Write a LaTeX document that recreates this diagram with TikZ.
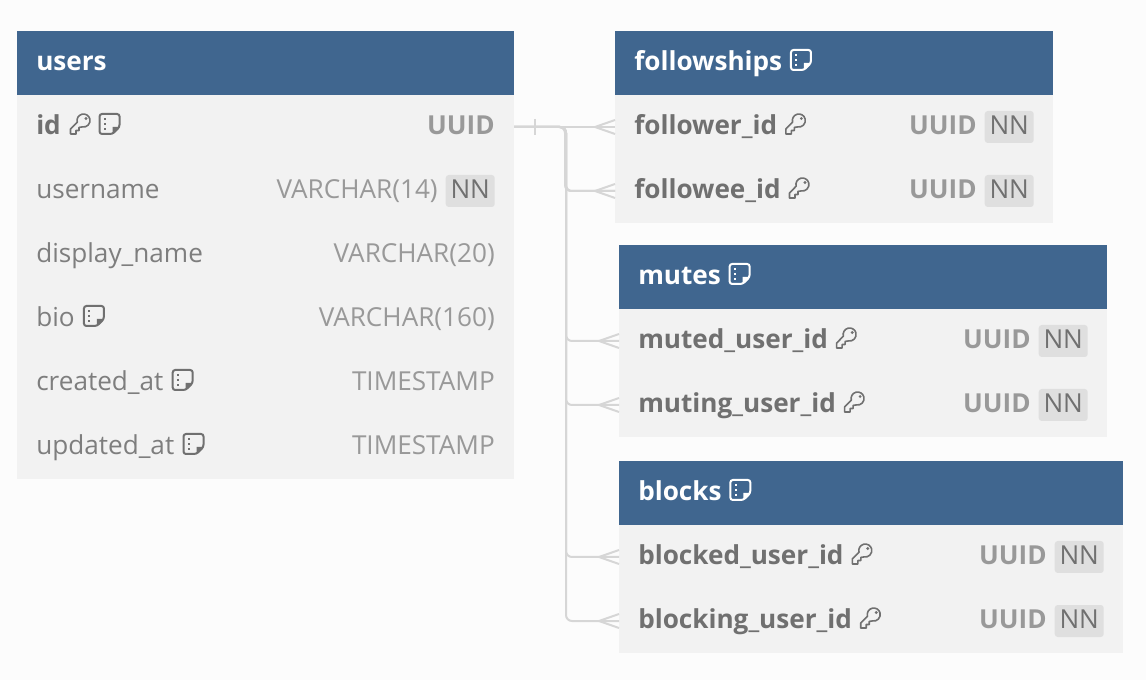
\documentclass[tikz,border=0pt]{standalone}
\usepackage{fontspec}
\setmainfont{Open Sans}
\usetikzlibrary{positioning}
\definecolor{headblue}{HTML}{40668F}
\definecolor{rowgray}{HTML}{F2F2F2}
\definecolor{pagegray}{HTML}{FCFCFC}
\definecolor{namegray}{HTML}{707070}
\definecolor{typegray}{HTML}{999999}
\definecolor{badgegray}{HTML}{DFDFDF}
\definecolor{linegray}{HTML}{D6D6D6}
\newdimen\px
\px=0.75pt
\tikzset{
  tablehead/.style={fill=headblue,anchor=north west,minimum height=64\px,inner sep=0pt,outer sep=0pt},
  tablerow/.style={fill=rowgray,minimum height=64\px,inner sep=0pt,outer sep=0pt},
  rowtext/.style={inner sep=0pt,text height=14pt,text depth=2.8pt,font=\fontsize{19.6pt}{23pt}\selectfont},
  headname/.style={rowtext,text=white,font=\fontsize{19.6pt}{23pt}\selectfont\bfseries},
  colname/.style={rowtext,text=namegray!90!white},
  keyname/.style={rowtext,text=namegray,font=\fontsize{19.6pt}{23pt}\selectfont\bfseries},
  coltype/.style={rowtext,text=typegray},
  keytype/.style={rowtext,text=typegray,font=\fontsize{19.6pt}{23pt}\selectfont\bfseries},
  nnbadge/.style={rowtext,text height=14pt,text depth=2.8pt,fill=badgegray,rounded corners=3\px,text=namegray,minimum width=49\px,minimum height=32\px},
  rel/.style={draw=linegray,line width=2\px,rounded corners=6\px},
  relfoot/.style={draw=linegray,line width=2\px},
  iconink/.style={namegray},
  keyicon/.pic={
    \draw[iconink,line width=1.6\px,line join=round]
      (-3.3,-1.8) arc[start angle=165,end angle=460,radius=6.5] -- (-1.5,3.4) -- (-1.5,6.5)
      -- (-4.5,6.5) -- (-4.5,10) -- (-10,10) -- (-10,5) -- cycle;
    \fill[iconink] (5.5,-5.5) circle[radius=1.6];
  },
  noteicon/.pic={
    \draw[iconink,line width=2\px,rounded corners=2.5\px]
      (-10,-10) -- (10,-10) -- (10,3) -- (3,10) -- (-10,10) -- cycle;
    \fill[iconink] (10,3) -- (3,3) -- (3,10) -- cycle;
    \foreach \doty in {-5,0,5}
      \fill[iconink] (-5.8,\doty-1) rectangle (-3.8,\doty+1);
  }
}
\begin{document}
\begin{tikzpicture}[x=\px,y=-\px]
  \useasboundingbox[fill=pagegray] (0,0) rectangle (1146,680);

  % tables
  \node[tablehead,minimum width=497\px] (users) at (17,31) {};
  \node[tablehead,minimum width=438\px] (followships) at (615,31) {};
  \node[tablehead,minimum width=488\px] (mutes) at (619,245) {};
  \node[tablehead,minimum width=504\px] (blocks) at (619,461) {};

  \node[headname,right=19\px of users.west] (usersname) {users};
  \node[headname,right=19\px of followships.west] (followshipsname) {followships};
  \node[headname,right=19\px of mutes.west] (mutesname) {mutes};
  \node[headname,right=19\px of blocks.west] (blocksname) {blocks};

  % users rows
  \node[tablerow,minimum width=497\px,below=0pt of users] (id) {};
  \node[keyname,right=19\px of id.west] (idname) {id};
  \node[keytype,left=19\px of id.east] (idtype) {UUID};
  \foreach \rowid/\rowprev/\rowtext in {
    username/id/username,
    display/username/display\_name,
    bio/display/bio,
    created/bio/created\_at,
    updated/created/updated\_at} {
    \node[tablerow,minimum width=497\px,below=0pt of \rowprev] (\rowid) {};
    \node[colname,right=19\px of \rowid.west] (\rowid name) {\rowtext};
  }
  \node[coltype,left=19\px of display.east] (displaytype) {VARCHAR(20)};
  \node[coltype,left=19\px of bio.east] (biotype) {VARCHAR(160)};
  \node[coltype,left=19\px of created.east] (createdtype) {TIMESTAMP};
  \node[coltype,left=19\px of updated.east] (updatedtype) {TIMESTAMP};
  \node[nnbadge,left=19\px of username.east] (usernamenn) {NN};
  \node[coltype,left=7.5\px of usernamenn] (usernametype) {VARCHAR(14)};

  % foreign key rows
  \foreach \rowid/\rowprev/\rowwidth/\rowtext in {
    follower/followships/438/follower\_id,
    followee/follower/438/followee\_id,
    muted/mutes/488/muted\_user\_id,
    muting/muted/488/muting\_user\_id,
    blocked/blocks/504/blocked\_user\_id,
    blocking/blocked/504/blocking\_user\_id} {
    \node[tablerow,minimum width=\rowwidth\px,below=0pt of \rowprev] (\rowid) {};
    \node[keyname,right=19\px of \rowid.west] (\rowid name) {\rowtext};
    \node[nnbadge,left=19\px of \rowid.east] (\rowid nn) {NN};
    \node[keytype,left=7.5\px of \rowid nn] (\rowid type) {UUID};
    \pic at ([xshift=18.5\px,yshift=3\px]\rowid name.east) {keyicon};
  }

  % icons
  \pic at ([xshift=19.5\px,yshift=3\px]idname.east) {keyicon};
  \pic at ([xshift=48.5\px,yshift=3\px]idname.east) {noteicon};
  \foreach \rowid in {bio,created,updated}
    \pic at ([xshift=19\px,yshift=3\px]\rowid name.east) {noteicon};
  \foreach \rowid in {followships,mutes,blocks}
    \pic[iconink/.style={white}] at ([xshift=18.5\px,yshift=3\px]\rowid name.east) {noteicon};

  % relations
  \coordinate (trunk) at (566,127);
  \coordinate (ticktop) at (535,119);
  \coordinate (tickbottom) at (535,135);
  \draw[relfoot] (ticktop) -- (tickbottom);
  \draw[relfoot] (id.east) -- (follower.west);
  \foreach \rowid in {followee,muted,muting,blocked,blocking}
    \draw[rel] (id.east) -- (trunk) |- (\rowid.west);
  \draw[rel] (id.east) -- (565,127) |- (followee.west);
  \foreach \rowid in {follower,followee,muted,muting,blocked,blocking} {
    \draw[relfoot] ([yshift=7\px]\rowid.west) -- ([xshift=-20\px]\rowid.west) -- ([yshift=-7\px]\rowid.west);
  }
\end{tikzpicture}
\end{document}
